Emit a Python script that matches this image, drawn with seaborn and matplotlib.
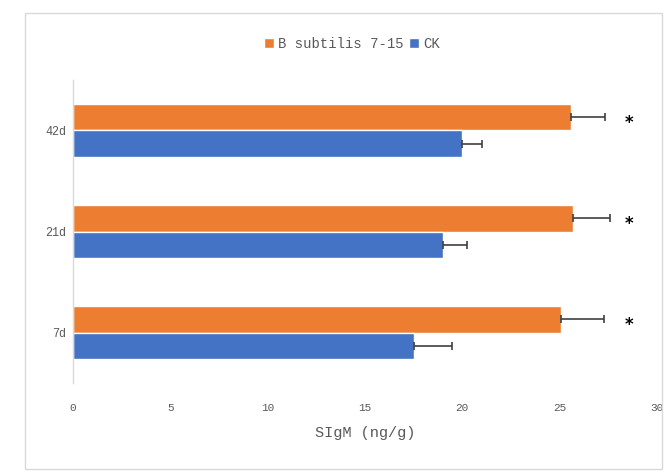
import matplotlib
matplotlib.use("Agg")
import matplotlib.pyplot as plt
import seaborn as sns
import pandas as pd
from matplotlib.patches import Rectangle

# Sampling days and group names
days = ["42d", "21d", "7d"]
groups = ["B subtilis 7-15", "CK"]

# Mean SIgM (ng/g) and standard deviations per group
treat_mean = [25.6, 25.7, 25.1]
treat_sd = [1.75, 1.9, 2.2]
ck_mean = [20.0, 19.0, 17.5]
ck_sd = [1.0, 1.25, 2.0]

# Significance marks for each day
sig_marks = ["*", "*", "*"]

x_ticks = [0, 5, 10, 15, 20, 25, 30]

df = pd.DataFrame({
    "day": days * 2,
    "group": [groups[0]] * 3 + [groups[1]] * 3,
    "value": treat_mean + ck_mean,
})
sd_by_group = {groups[0]: treat_sd, groups[1]: ck_sd}

sns.set_theme(style="white")
plt.rcParams["font.family"] = ["Liberation Mono", "DejaVu Sans Mono"]
text_color = "#595959"

fig = plt.figure(figsize=(6.64, 4.73), dpi=100)
ax = fig.add_axes([0.110, 0.190, 0.879, 0.641])

palette = {groups[0]: "#ED7D31", groups[1]: "#4472C4"}
sns.barplot(data=df, y="day", x="value", hue="group", order=days,
            hue_order=groups, palette=palette, width=0.525, orient="h",
            errorbar=None, saturation=1, ax=ax, legend=True)

# One-sided error bars at the end of each bar
for container, grp in zip(ax.containers, groups):
    for bar, sd in zip(container, sd_by_group[grp]):
        yc = bar.get_y() + bar.get_height() / 2
        ax.errorbar(bar.get_width(), yc, xerr=[[0], [sd]], fmt="none",
                    ecolor="#404040", elinewidth=1.2, capsize=3, capthick=1.2)

# Significance marks beside the treated bars
for bar, mark in zip(ax.containers[0], sig_marks):
    yc = bar.get_y() + bar.get_height() / 2
    ax.text(28.6, yc + 0.06, mark, ha="center", va="center",
            fontsize=12, fontweight="bold", color="black",
            family="DejaVu Sans")

ax.set_xlim(0, 30)
ax.set_ylim(2.5, -0.5)
ax.set_xticks(x_ticks)
ax.set_xticklabels([str(t) for t in x_ticks], color=text_color, fontsize=8)
ax.tick_params(axis="y", labelsize=8.5, labelcolor=text_color, length=0, pad=5)
ax.tick_params(axis="x", length=0, pad=14)
ax.set_ylabel("")
ax.set_xlabel("SIgM (ng/g)", color=text_color, fontsize=11, labelpad=10)

for side in ["top", "right", "bottom"]:
    ax.spines[side].set_visible(False)
ax.spines["left"].set_color("#d9d9d9")
ax.spines["left"].set_linewidth(1)

leg = ax.legend(loc="center", bbox_to_anchor=(0.478, 1.12), ncol=2, frameon=False,
                fontsize=10, handlelength=0.7, handleheight=0.7,
                handletextpad=0.3, columnspacing=0.4)
for t in leg.get_texts():
    t.set_color(text_color)

# Light chart border
fig.patches.append(Rectangle((25 / 664, 4 / 473), 637 / 664, 456 / 473,
                             transform=fig.transFigure, fill=False,
                             edgecolor="#d9d9d9", linewidth=1))

fig.savefig("out.png", dpi=100)
